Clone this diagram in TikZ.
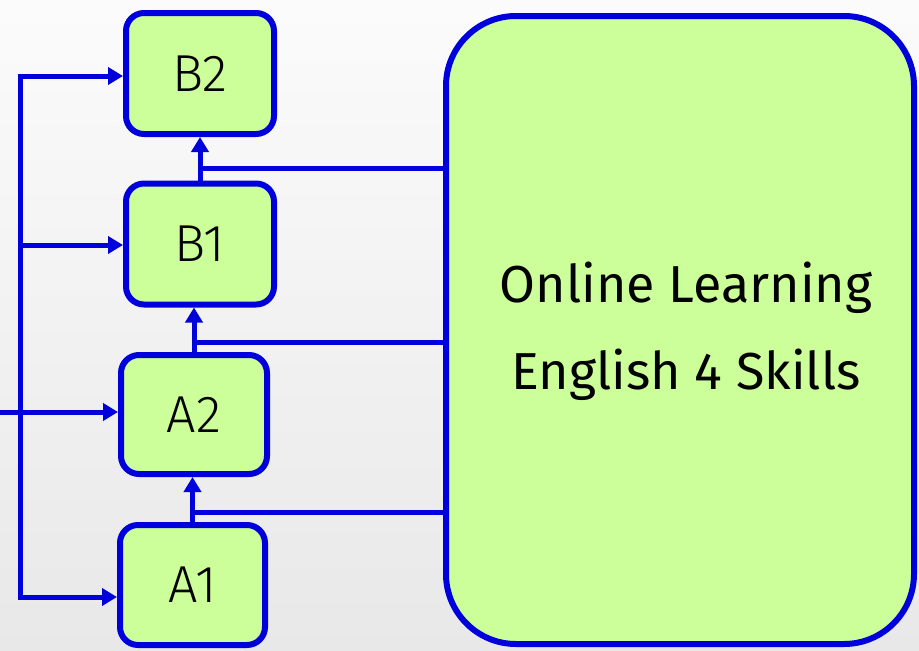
\documentclass[tikz,border=0pt]{standalone}
\usepackage{fontspec}
\setmainfont{Fira Sans}
\newfontfamily\levelfont{Fira Sans Light}
\usepackage{tikz}
\usetikzlibrary{arrows.meta, positioning, calc}

\definecolor{levelgreen}{HTML}{CCFF99}
\definecolor{levelblue}{HTML}{0000DD}

\tikzset{
  level/.style={draw=levelblue, line width=6pt, fill=levelgreen, rounded corners=18pt,
    minimum width=148pt, minimum height=121pt, font=\levelfont\fontsize{52}{56}\selectfont, inner sep=0pt},
  link/.style={levelblue, line width=5pt},
  linkarrow/.style={link, -{Triangle[length=15pt, width=17pt]}}
}

\begin{document}
\begin{tikzpicture}[x=1pt, y=-1pt]
  % background
  \shade[top color=gray!3, bottom color=gray!18] (0,0) rectangle (919,651);
  \useasboundingbox (0,0) rectangle (919,651);

  % levels
  \node[level] (B2) at (200,73.5) {B2};
  \node[level] (B1) at (200,244) {B1};
  \node[level, minimum width=146pt, minimum height=119pt] (A2) at (194,414.5) {A2};
  \node[level, minimum width=145pt, minimum height=120pt] (A1) at (192.5,585) {A1};

  % online course
  \node[draw=levelblue, line width=6pt, fill=levelgreen, rounded corners=70pt,
    minimum width=468pt, minimum height=628pt] (online) at (680,330) {};
  \node[align=center, font=\fontsize{52}{87}\selectfont] (title) at (686,331)
    {Online Learning\\English 4 Skills};

  % left bus
  \coordinate (busB2) at (20,76);
  \coordinate (busB1) at (20,245);
  \coordinate (busA2) at (20,412);
  \coordinate (busA1) at (20,597);
  \coordinate (inA2) at (0,412);
  \draw[link] ($(busB2)+(0,-2.5)$) -- ($(busA1)+(0,2.5)$);
  \draw[linkarrow] (busB2) -- (B2.west |- busB2);
  \draw[linkarrow] (busB1) -- (B1.west |- busB1);
  \draw[linkarrow] (inA2) -- (A2.west |- inA2);
  \draw[linkarrow] (busA1) -- (A1.west |- busA1);

  % steps up
  \draw[linkarrow] (A1.north) -- (A1.north |- A2.south);
  \draw[linkarrow] (A2.north) -- (A2.north |- B1.south);
  \draw[linkarrow] (B1.north) -- (B1.north |- B2.south);

  % links from the course
  \coordinate (jA) at (A1.north |- 0,512);
  \coordinate (jB) at (A2.north |- 0,342);
  \coordinate (jC) at (B1.north |- 0,168);
  \draw[link] (online.west |- jA) -- (jA);
  \draw[link] (online.west |- jB) -- (jB);
  \draw[link] (online.west |- jC) -- (jC);
\end{tikzpicture}
\end{document}
